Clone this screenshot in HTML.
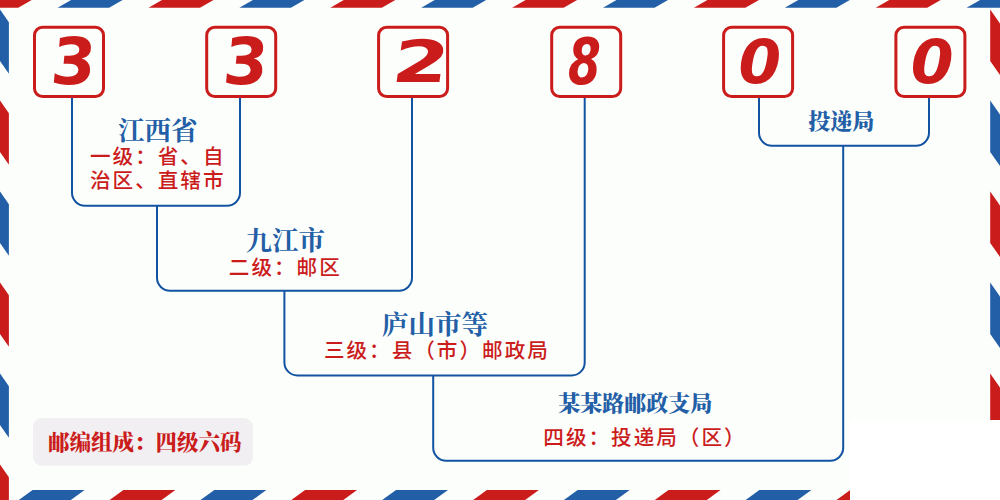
<!DOCTYPE html>
<html lang="zh-CN"><head><meta charset="utf-8"><title>332800</title>
<style>
html,body{margin:0;padding:0;}
body{width:1000px;height:500px;overflow:hidden;background:#fcfefc;position:relative;}
.t{position:absolute;white-space:nowrap;}
.b{font-family:"Liberation Serif","Noto Serif CJK SC",serif;color:#235fa6;}
.big{font-size:26.5px;line-height:36px;font-weight:700;}
.sm{font-size:22px;line-height:30px;font-weight:900;}
.lab{font-size:21.5px;line-height:30px;font-weight:900;color:#cb1c1c;}
.r{font-family:"Liberation Sans","Noto Sans CJK SC",sans-serif;font-weight:500;color:#cb1c1c;font-size:20.6px;line-height:24px;letter-spacing:2px;}
</style></head><body>
<svg width="1000" height="500" viewBox="0 0 1000 500" style="position:absolute;left:0;top:0">
<polygon fill="#cb1c1c" points="-33.3,7.7 18.2,7.7 31.7,0 -19.8,0"/>
<polygon fill="#235fa6" points="57.6,7.7 109.1,7.7 122.6,0 71.1,0"/>
<polygon fill="#cb1c1c" points="148.5,7.7 200.0,7.7 213.5,0 162.0,0"/>
<polygon fill="#235fa6" points="239.4,7.7 290.9,7.7 304.4,0 252.9,0"/>
<polygon fill="#cb1c1c" points="330.3,7.7 381.8,7.7 395.3,0 343.8,0"/>
<polygon fill="#235fa6" points="421.2,7.7 472.7,7.7 486.2,0 434.7,0"/>
<polygon fill="#cb1c1c" points="512.1,7.7 563.6,7.7 577.1,0 525.6,0"/>
<polygon fill="#235fa6" points="603.0,7.7 654.5,7.7 668.0,0 616.5,0"/>
<polygon fill="#cb1c1c" points="693.9,7.7 745.4,7.7 758.9,0 707.4,0"/>
<polygon fill="#235fa6" points="784.8,7.7 836.3,7.7 849.8,0 798.3,0"/>
<polygon fill="#cb1c1c" points="875.7,7.7 927.2,7.7 940.7,0 889.2,0"/>
<polygon fill="#235fa6" points="966.6,7.7 1018.1,7.7 1031.6,0 980.1,0"/>
<polygon fill="#cb1c1c" points="1057.5,7.7 1109.0,7.7 1122.5,0 1071.0,0"/>
<polygon fill="#cb1c1c" points="-58.2,490.1 -6.2,490.1 -20.0,500 -72.0,500"/>
<polygon fill="#235fa6" points="32.6,490.1 84.6,490.1 70.8,500 18.8,500"/>
<polygon fill="#cb1c1c" points="123.4,490.1 175.4,490.1 161.6,500 109.6,500"/>
<polygon fill="#235fa6" points="214.3,490.1 266.3,490.1 252.5,500 200.5,500"/>
<polygon fill="#cb1c1c" points="305.1,490.1 357.1,490.1 343.3,500 291.3,500"/>
<polygon fill="#235fa6" points="396.0,490.1 448.0,490.1 434.2,500 382.2,500"/>
<polygon fill="#cb1c1c" points="486.9,490.1 538.9,490.1 525.1,500 473.1,500"/>
<polygon fill="#235fa6" points="577.7,490.1 629.7,490.1 615.9,500 563.9,500"/>
<polygon fill="#cb1c1c" points="668.5,490.1 720.5,490.1 706.8,500 654.8,500"/>
<polygon fill="#235fa6" points="759.4,490.1 811.4,490.1 797.6,500 745.6,500"/>
<polygon fill="#cb1c1c" points="850.2,490.1 902.2,490.1 888.5,500 836.5,500"/>
<polygon fill="#235fa6" points="941.1,490.1 993.1,490.1 979.3,500 927.3,500"/>
<polygon fill="#cb1c1c" points="1031.9,490.1 1083.9,490.1 1070.1,500 1018.1,500"/>
<polygon fill="#235fa6" points="0,9.5 8.9,22.3 8.9,73.8 0,61.0"/>
<polygon fill="#cb1c1c" points="0,100.5 8.9,113.3 8.9,164.8 0,152.0"/>
<polygon fill="#235fa6" points="0,191.5 8.9,204.3 8.9,255.8 0,243.0"/>
<polygon fill="#cb1c1c" points="0,282.5 8.9,295.3 8.9,346.8 0,334.0"/>
<polygon fill="#235fa6" points="0,373.5 8.9,386.3 8.9,437.8 0,425.0"/>
<polygon fill="#cb1c1c" points="0,464.5 8.9,477.3 8.9,528.8 0,516.0"/>
<polygon fill="#cb1c1c" points="990.2,9.6 1000,23.4 1000,74.9 990.2,61.1"/>
<polygon fill="#235fa6" points="990.2,100.6 1000,114.4 1000,165.9 990.2,152.1"/>
<polygon fill="#cb1c1c" points="990.2,191.6 1000,205.4 1000,256.9 990.2,243.1"/>
<polygon fill="#235fa6" points="990.2,282.6 1000,296.4 1000,347.9 990.2,334.1"/>
<polygon fill="#cb1c1c" points="990.2,373.6 1000,387.4 1000,438.9 990.2,425.1"/>
<polygon fill="#235fa6" points="990.2,464.6 1000,478.4 1000,529.9 990.2,516.1"/>
<rect x="850" y="420" width="150" height="80" fill="#ffffff"/>
<path d="M72,97 V192.8 A13,13 0 0 0 85,205.8 H227 A13,13 0 0 0 240,192.8 V97 M157,205.8 V277.8 A13,13 0 0 0 170,290.8 H399 A13,13 0 0 0 412,277.8 V97 M284.4,290.8 V362.4 A13,13 0 0 0 297.4,375.4 H571.7 A13,13 0 0 0 584.7,362.4 V97 M433.2,375.4 V447.8 A13,13 0 0 0 446.2,460.8 H830.2 A13,13 0 0 0 843.2,447.8 V145.8 M759,97 V132.8 A13,13 0 0 0 772,145.8 H916 A13,13 0 0 0 929,132.8 V97" fill="none" stroke="#1253a2" stroke-width="2"/>
<rect x="34.5" y="27.25" width="69" height="69.25" rx="8" ry="8" fill="#fcfefc" stroke="#cb1c1c" stroke-width="3"/>
<rect x="206.7" y="27.25" width="69" height="69.25" rx="8" ry="8" fill="#fcfefc" stroke="#cb1c1c" stroke-width="3"/>
<rect x="378.6" y="27.25" width="69" height="69.25" rx="8" ry="8" fill="#fcfefc" stroke="#cb1c1c" stroke-width="3"/>
<rect x="551.7" y="27.25" width="69" height="69.25" rx="8" ry="8" fill="#fcfefc" stroke="#cb1c1c" stroke-width="3"/>
<rect x="723.6" y="27.25" width="69" height="69.25" rx="8" ry="8" fill="#fcfefc" stroke="#cb1c1c" stroke-width="3"/>
<rect x="895.9" y="27.25" width="69" height="69.25" rx="8" ry="8" fill="#fcfefc" stroke="#cb1c1c" stroke-width="3"/>
<rect x="33" y="418" width="220" height="47.8" rx="9" fill="#f1eff2"/>
<text font-size="100" style="font-family:&quot;DejaVu Sans&quot;,&quot;Liberation Sans&quot;,sans-serif;font-weight:700;font-style:oblique" fill="#cb1c1c" transform="matrix(0.6379 0 0.0638 0.6457 54.00 84.03)">3</text>
<text font-size="100" style="font-family:&quot;DejaVu Sans&quot;,&quot;Liberation Sans&quot;,sans-serif;font-weight:700;font-style:oblique" fill="#cb1c1c" transform="matrix(0.6379 0 0.0638 0.6457 226.20 84.03)">3</text>
<text font-size="100" style="font-family:&quot;DejaVu Sans&quot;,&quot;Liberation Sans&quot;,sans-serif;font-weight:700;font-style:oblique" fill="#cb1c1c" transform="matrix(0.8087 0 0.0809 0.5838 395.89 82.00)">2</text>
<text font-size="100" style="font-family:&quot;DejaVu Sans&quot;,&quot;Liberation Sans&quot;,sans-serif;font-weight:700;font-style:oblique" fill="#cb1c1c" transform="matrix(0.4734 0 0.0000 0.6318 568.05 83.75)">8</text>
<text font-size="100" style="font-family:&quot;DejaVu Sans&quot;,&quot;Liberation Sans&quot;,sans-serif;font-weight:700;font-style:oblique" fill="#cb1c1c" transform="matrix(0.6128 0 0.0000 0.6093 738.56 82.79)">0</text>
<text font-size="100" style="font-family:&quot;DejaVu Sans&quot;,&quot;Liberation Sans&quot;,sans-serif;font-weight:700;font-style:oblique" fill="#cb1c1c" transform="matrix(0.6160 0 0.0000 0.6093 910.64 82.79)">0</text>
</svg>
<div class="t b big" style="left:117.90px;top:112.70px;">江西省</div>
<div class="t r" style="left:90.00px;top:145.40px;">一级：省、自</div>
<div class="t r" style="left:90.00px;top:169.00px;">治区、直辖市</div>
<div class="t b big" style="left:245.50px;top:223.00px;">九江市</div>
<div class="t r" style="left:228.80px;top:256.00px;">二级：邮区</div>
<div class="t b big" style="left:382.00px;top:307.20px;">庐山市等</div>
<div class="t r" style="left:323.90px;top:339.00px;">三级：县（市）邮政局</div>
<div class="t b sm" style="left:558.20px;top:389.30px;">某某路邮政支局</div>
<div class="t r" style="left:543.30px;top:426.00px;">四级：投递局（区）</div>
<div class="t b sm" style="left:808.20px;top:106.80px;">投递局</div>
<div class="t b lab" style="left:48.00px;top:428.00px;">邮编组成：四级六码</div>
</body></html>
